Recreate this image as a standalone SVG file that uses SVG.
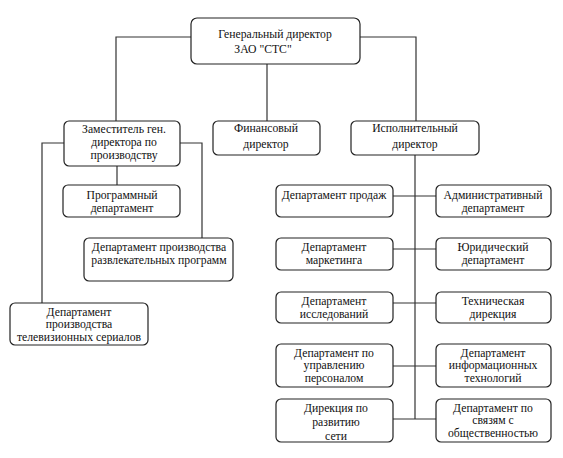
<svg xmlns="http://www.w3.org/2000/svg" width="563" height="458" viewBox="0 0 563 458">
<style>
.box{fill:#fff;stroke:#222;stroke-width:1.2}
.ln{fill:none;stroke:#333;stroke-width:1.2}
.t text{font-family:"Liberation Serif","Times New Roman","DejaVu Serif",serif;font-size:11.7px;fill:#111;text-anchor:middle}
</style>
<rect width="563" height="458" fill="#fff"/>
<g id="connectors">
<path class="ln" d="M191 37H116V121"/>
<path class="ln" d="M360 37H416V121"/>
<path class="ln" d="M267 64V121"/>
<path class="ln" d="M64 143H42V303"/>
<path class="ln" d="M180 143H202V238"/>
<path class="ln" d="M117 166V185"/>
<path class="ln" d="M415 155V419"/>
<path class="ln" d="M393 196H436"/>
<path class="ln" d="M393 249H436"/>
<path class="ln" d="M393 303H436"/>
<path class="ln" d="M393 366H436"/>
<path class="ln" d="M393 419H436"/>
</g>
<g class="t">
<g id="gen"><rect class="box" x="191" y="18" width="169" height="46" rx="6"/><text x="275" y="38">Генеральный директор</text><text x="263" y="53">ЗАО "СТС"</text></g>
<g id="zam"><rect class="box" x="64" y="121" width="116" height="45" rx="5"/><text x="124" y="133">Заместитель ген.</text><text x="124" y="146">директора по</text><text x="124" y="159">производству</text></g>
<g id="fin"><rect class="box" x="213" y="121" width="107" height="34" rx="5"/><text x="266" y="132">Финансовый</text><text x="266" y="148">директор</text></g>
<g id="isp"><rect class="box" x="351" y="121" width="128" height="34" rx="5"/><text x="415" y="132">Исполнительный</text><text x="415" y="148">директор</text></g>
<g id="prog"><rect class="box" x="63" y="185" width="117" height="32" rx="5"/><text x="122" y="199">Программный</text><text x="122" y="212">департамент</text></g>
<g id="razvl"><rect class="box" x="84" y="238" width="149" height="43" rx="5"/><text x="159" y="251">Департамент производства</text><text x="159" y="264">развлекательных программ</text></g>
<g id="tv"><rect class="box" x="10" y="303" width="138" height="42" rx="5"/><text x="79" y="315.5">Департамент</text><text x="79" y="328.3">производства</text><text x="79" y="341">телевизионных сериалов</text></g>
<g id="prod"><rect class="box" x="276" y="185" width="117" height="32" rx="5"/><text x="334" y="199">Департамент продаж</text></g>
<g id="adm"><rect class="box" x="436" y="185" width="115" height="32" rx="5"/><text x="493" y="199">Административный</text><text x="493" y="212">департамент</text></g>
<g id="mark"><rect class="box" x="276" y="238" width="117" height="32" rx="5"/><text x="334" y="251">Департамент</text><text x="334" y="264">маркетинга</text></g>
<g id="jur"><rect class="box" x="436" y="238" width="115" height="32" rx="5"/><text x="493" y="251">Юридический</text><text x="493" y="264">департамент</text></g>
<g id="issl"><rect class="box" x="276" y="292" width="117" height="31" rx="5"/><text x="334" y="305">Департамент</text><text x="334" y="318">исследований</text></g>
<g id="tech"><rect class="box" x="436" y="292" width="115" height="31" rx="5"/><text x="493" y="305">Техническая</text><text x="493" y="318">дирекция</text></g>
<g id="pers"><rect class="box" x="276" y="344" width="117" height="43" rx="5"/><text x="334" y="356.5">Департамент по</text><text x="334" y="369.3">управлению</text><text x="334" y="382">персоналом</text></g>
<g id="it"><rect class="box" x="436" y="344" width="115" height="43" rx="5"/><text x="493" y="356.5">Департамент</text><text x="493" y="369.3">информационных</text><text x="493" y="382">технологий</text></g>
<g id="set"><rect class="box" x="276" y="399" width="117" height="43" rx="5"/><text x="336" y="412">Дирекция по</text><text x="336" y="426">развитию</text><text x="336" y="440">сети</text></g>
<g id="pr"><rect class="box" x="436" y="399" width="115" height="43" rx="5"/><text x="493" y="411.5">Департамент по</text><text x="493" y="424.3">связям с</text><text x="493" y="437">общественностью</text></g>
</g>
</svg>
